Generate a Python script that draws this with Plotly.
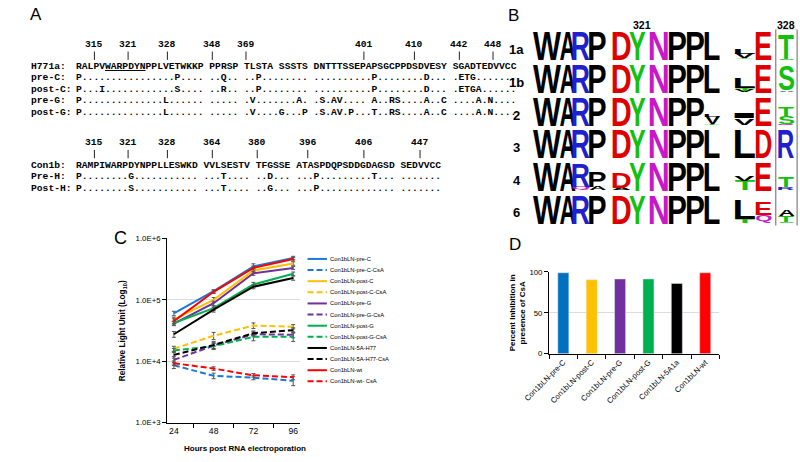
import json
import plotly.graph_objects as go

W, H = 800, 462

# ---------------- Panel A: sequence alignment ----------------
a_top_numbers = [315, 321, 328, 348, 369, 401, 410, 442, 448]
a_top_columns = [3, 9, 16, 24, 30, 51, 60, 68, 74]
a_top_names = ["H771a:", "pre-C:", "post-C:", "pre-G:", "post-G:"]
a_top_seqs = [
    "RALPVWARPDYNPPLVETWKKP PPRSP TLSTA SSSTS DNTTTSSEPAPSGCPPDSDVESY SGADTEDVVCC",
    "P................P.... ..Q.. ..P........ ..........P........D... .ETG.......",
    "P...I............S.... ..R.. ..P........ ..........P........D... .ETGA......",
    "P..............L...... ..... .V.......A. .S.AV.... A..RS....A..C ....A.N....",
    "P..............L...... ..... .V....G...P .S.AV.P...T..RS....A..C ....A.N....",
]
a_motif = (5, 12)  # WARPDYN, underlined in the H771a row

a_bot_numbers = [315, 321, 328, 364, 380, 396, 406, 447]
a_bot_columns = [3, 9, 16, 24, 32, 41, 51, 61]
a_bot_names = ["Con1b:", "Pre-H:", "Post-H:"]
a_bot_seqs = [
    "RAMPIWARPDYNPPLLESWKD VVLSESTV TFGSSE ATASPDQPSDDGDAGSD SEDVVCC",
    "P........G........... ...T.... ..D... ...P.........T... .......",
    "P........S........... ...T.... ..G... ...P............. .......",
]

# ---------------- Panel B: sequence logo ----------------
logo_rows = ["1a", "1b", "2", "3", "4", "6"]
logo_marks = ["321", "328"]
F1 = 1.0
logo_stacks = [
    [[("W", F1)], [("A", F1)], [("R", F1)], [("P", F1)], [("D", F1)], [("Y", F1)], [("N", F1)],
     [("P", F1)], [("P", F1)], [("L", F1)], [("Y", 0.06), ("V", 0.16), ("L", 0.16)], [("E", F1)],
     [("S", 0.05), ("T", 0.88)]],
    [[("W", F1)], [("A", F1)], [("R", F1)], [("P", F1)], [("D", F1)], [("Y", F1)], [("N", F1)],
     [("P", F1)], [("P", F1)], [("L", F1)], [("V", 0.07), ("T", 0.1), ("L", 0.36)], [("E", F1)],
     [("A", 0.06), ("S", 0.86)]],
    [[("W", F1)], [("A", F1)], [("R", F1)], [("P", F1)], [("D", F1)], [("Y", F1)], [("N", F1)],
     [("P", F1)], [("P", F1)], [("T", 0.03), ("V", 0.28), ("L", 0.1)], [("V", 0.24), ("I", 0.18)],
     [("E", F1)], [("Q", 0.04), ("S", 0.28), ("T", 0.32)]],
    [[("W", F1)], [("A", F1)], [("R", F1)], [("P", F1)], [("D", F1)], [("Y", F1)], [("N", F1)],
     [("P", F1)], [("P", F1)], [("L", F1)], [("L", F1)], [("D", F1)], [("R", F1)]],
    [[("W", F1)], [("A", F1)], [("Q", 0.12), ("R", 0.82)], [("A", 0.13), ("P", 0.52)],
     [("A", 0.1), ("D", 0.52)], [("Y", F1)], [("N", F1)], [("P", F1)], [("P", F1)], [("L", F1)],
     [("T", 0.34), ("V", 0.18)], [("E", F1)], [("R", 0.1), ("T", 0.35)]],
    [[("W", F1)], [("A", F1)], [("R", F1)], [("P", F1)], [("D", F1)], [("Y", F1)], [("N", F1)],
     [("P", F1)], [("P", F1)], [("L", F1)], [("T", 0.15), ("L", 0.68)], [("Q", 0.3), ("E", 0.45)],
     [("S", 0.05), ("T", 0.22), ("A", 0.22)]],
]
residue_colors = {}
for aa in "RKH":
    residue_colors[aa] = "#2020CC"
for aa in "DE":
    residue_colors[aa] = "#DD0000"
for aa in "STYGC":
    residue_colors[aa] = "#12C012"
for aa in "NQ":
    residue_colors[aa] = "#C818C8"

# ---------------- Panel C: replication kinetics ----------------
hours = ["24", "48", "72", "96"]
c_names = ["Con1bLN-pre-C", "Con1bLN-pre-C-CsA", "Con1bLN-post-C", "Con1bLN-post-C-CsA",
           "Con1bLN-pre-G", "Con1bLN-pre-G-CsA", "Con1bLN-post-G", "Con1bLN-post-G-CsA",
           "Con1bLN-5A-H77", "Con1bLN-5A-H77-CsA", "Con1bLN-wt", "Con1bLN-wt- CsA"]
pre_C = [6.0e4, 1.38e5, 3.5e5, 4.8e5]
pre_C_CsA = [8.6e3, 5.8e3, 5.4e3, 4.8e3]
post_C = [4.8e4, 1.0e5, 3.0e5, 3.9e5]
post_C_CsA = [1.6e4, 2.6e4, 3.8e4, 3.65e4]
pre_G = [4.1e4, 8.8e4, 2.7e5, 3.3e5]
pre_G_CsA = [1.05e4, 1.8e4, 2.75e4, 2.7e4]
post_G = [4.2e4, 7.3e4, 1.77e5, 2.65e5]
post_G_CsA = [1.5e4, 1.75e4, 2.5e4, 2.5e4]
h77 = [2.75e4, 6.9e4, 1.63e5, 2.26e5]
h77_CsA = [1.27e4, 1.84e4, 2.86e4, 3.2e4]
wt = [4.5e4, 1.35e5, 3.3e5, 4.6e5]
wt_CsA = [9.3e3, 7.6e3, 5.9e3, 5.5e3]
c_values = [pre_C, pre_C_CsA, post_C, post_C_CsA, pre_G, pre_G_CsA,
            post_G, post_G_CsA, h77, h77_CsA, wt, wt_CsA]
c_errors = [
    [5e3, 8e3, 3.5e4, 3e4], [1.0e3, 6e2, 4e2, 8e2],
    [4e3, 9e3, 2.5e4, 2.5e4], [1.5e3, 3.5e3, 4e3, 3e3],
    [3e3, 7e3, 2e4, 2e4], [1.5e3, 2e3, 2.5e3, 3e3],
    [3e3, 6e3, 1.5e4, 1.8e4], [1.2e3, 2e3, 3.5e3, 4e3],
    [3e3, 6e3, 1.2e4, 1.8e4], [1.5e3, 2.5e3, 2.5e3, 3e3],
    [4e3, 8e3, 2.5e4, 3e4], [8e2, 5e2, 4e2, 5e2],
]
c_colors = ["#1C78D8", "#1C78D8", "#FFC000", "#FFC000", "#7030A0", "#7030A0",
            "#00B050", "#00B050", "#000000", "#000000", "#FF0000", "#FF0000"]
c_dashes = ["solid", "6px,3px"] * 6
c_ticks = [1e3, 1e4, 1e5, 1e6]
c_ticktext = ["1.0E+3", "1.0E+4", "1.0E+5", "1.0E+6"]

# ---------------- Panel D: inhibition ----------------
d_categories = ["Con1bLN-pre-C", "Con1bLN-post-C", "Con1bLN-pre-G",
                "Con1bLN-post-G", "Con1bLN-5A1a", "Con1bLN-wt"]
d_values = [99, 90.5, 91.5, 91.5, 86, 99]
d_colors = ["#0070C0", "#FFC000", "#7030A0", "#00B050", "#000000", "#FF0000"]

# ================= layout / style constants =================
SANS = "Liberation Sans"
MONO = "Liberation Mono"
MONO_SIZE = 9.67
CW = 0.60009765625 * MONO_SIZE
SEQ_X0 = 50.4
LAB_X0 = 4.0
# logo column geometry (pixels) - style only
LOGO_COL_CENTERS = [539, 559.5, 574, 590.5, 616, 632.5, 654, 673.5, 691.5, 709.5, 743, 762.5, 786]
LOGO_COL_WIDTHS = [28, 15.5, 17, 16.5, 18, 16, 18, 17, 17, 15, 20, 15.5, 15.5]
LOGO_Y_TOP, LOGO_Y_BOT = 26.0, 225.8
MARK_COLS = [5, 12]

annotations = []
shapes = []


def ann(x, y, text, size, color="black", family=SANS, weight="normal",
        xanchor="center", yanchor="middle", angle=0, xref="paper", yref="paper"):
    if xref == "paper":
        x = x / W
    if yref == "paper":
        y = 1 - y / H
    annotations.append(dict(
        x=x, y=y, xref=xref, yref=yref, text=text, showarrow=False,
        font=dict(family=family, size=size, color=color, weight=weight),
        xanchor=xanchor, yanchor=yanchor, textangle=angle, borderpad=0))
    return len(annotations) - 1


def col_x(c):
    return SEQ_X0 + (c + 0.5) * CW


def alignment_block(numbers, columns, names, seqs, y_num, y_tick0, y_tick1, y_rows, row_gap, underline=None):
    for n, c in zip(numbers, columns):
        ann(col_x(c), y_num, str(n), MONO_SIZE, family=MONO, weight="bold")
        shapes.append(dict(type="line", xref="paper", yref="paper",
                           x0=col_x(c) / W, x1=col_x(c) / W, y0=1 - y_tick0 / H, y1=1 - y_tick1 / H,
                           line=dict(color="#222222", width=1)))
    for i, (nm, sq) in enumerate(zip(names, seqs)):
        y = y_rows + i * row_gap
        ann(LAB_X0, y, nm, MONO_SIZE, family=MONO, weight="bold", xanchor="left")
        txt = sq
        if i == 0 and underline is not None:
            a, b = underline
            txt = sq[:a] + '<span style="text-decoration:underline">' + sq[a:b] + "</span>" + sq[b:]
        ann(SEQ_X0, y, txt, MONO_SIZE, family=MONO, weight="bold", xanchor="left")


ann(3, 11, "A", 17, xanchor="left")
alignment_block(a_top_numbers, a_top_columns, a_top_names, a_top_seqs, 41.7, 48.5, 57, 63.3, 11.8, a_motif)
alignment_block(a_bot_numbers, a_bot_columns, a_bot_names, a_bot_seqs, 141.7, 148.8, 157.3, 164.6, 11.8)

# ---- Panel B ----
n_rows = len(logo_rows)
row_h_px = (LOGO_Y_BOT - LOGO_Y_TOP) / n_rows
LETTER_FULL = 0.85
LETTER_BASE = 0.075
LETTER_FS = 10
ann(497, 12, "B", 17, xanchor="left")
for lab, c in zip(logo_marks, MARK_COLS):
    ann(LOGO_COL_CENTERS[c] + (4 if c == 5 else 0), 21, lab, 10.5, weight="bold")
logo_specs = []
for r, (lab, row) in enumerate(zip(logo_rows, logo_stacks)):
    ann(507, LOGO_Y_TOP + (r + 0.5) * row_h_px + 4, lab, 13, weight="bold")
    base = n_rows - (r + 1) + LETTER_BASE
    for c, stack in enumerate(row):
        cum = base
        for letter, h in stack:
            hh = h * LETTER_FULL
            idx = ann(LOGO_COL_CENTERS[c], cum + hh / 2, letter, LETTER_FS,
                      color=residue_colors.get(letter, "#000000"), weight="bold",
                      xref="x3", yref="y3")
            logo_specs.append([idx, LOGO_COL_WIDTHS[c], round(hh * row_h_px, 2), LETTER_FS, letter])
            cum += hh
box_c = MARK_COLS[1]
shapes.append(dict(type="rect", xref="x3", yref="y3",
                   x0=LOGO_COL_CENTERS[box_c] - 11, x1=LOGO_COL_CENTERS[box_c] + 11,
                   y0=-0.22, y1=6.02, line=dict(color="#666666", width=1)))
shapes.append(dict(type="line", xref="x3", yref="y3",
                   x0=LOGO_COL_CENTERS[0] - LOGO_COL_WIDTHS[0] / 2 - 2,
                   x1=LOGO_COL_CENTERS[6] + LOGO_COL_WIDTHS[6] / 2 + 6,
                   y0=-0.05, y1=-0.05, line=dict(color="black", width=1.6)))

# ---- Panel C ----
ann(90, 239, "C", 18, xanchor="left")
ann(100, 333, "Relative Light Unit (Log<sub>10</sub>)", 8.2, weight="bold", angle=-90)
ann(226, 453, "Hours post RNA electroporation", 8, weight="bold")
LEG_X0, LEG_Y0, LEG_DY = 291, 260, 11.35
for i, (nm, colr, dsh) in enumerate(zip(c_names, c_colors, c_dashes)):
    y = LEG_Y0 + i * LEG_DY
    shapes.append(dict(type="line", xref="paper", yref="paper", x0=LEG_X0 / W, x1=(LEG_X0 + 20) / W,
                       y0=1 - y / H, y1=1 - y / H, line=dict(color=colr, width=2, dash=dsh)))
    ann(LEG_X0 + 22, y, nm, 5.8, xanchor="left")

# ---- Panel D ----
ann(498, 245, "D", 17, xanchor="left")
ann(508, 315, "Percent Inhibition in<br>presence of CsA", 8, weight="bold", angle=-90)

fig = go.Figure()
for nm, vals, err, colr, dsh in zip(c_names, c_values, c_errors, c_colors, c_dashes):
    fig.add_trace(go.Scatter(
        x=hours, y=vals, mode="lines", name=nm, showlegend=False,
        line=dict(color=colr, width=2, dash=dsh),
        error_y=dict(type="data", array=err, color="#555555", thickness=1, width=2),
        xaxis="x", yaxis="y"))
fig.add_trace(go.Bar(x=d_categories, y=d_values, marker_color=d_colors, width=0.39,
                     showlegend=False, xaxis="x2", yaxis="y2"))
fig.add_trace(go.Scatter(x=[None], y=[None], mode="markers", xaxis="x3", yaxis="y3",
                         showlegend=False, hoverinfo="skip"))

axis_font = dict(family=SANS, size=7.8, color="black")
fig.update_layout(
    width=W, height=H, margin=dict(l=0, r=0, t=0, b=0),
    paper_bgcolor="white", plot_bgcolor="white",
    xaxis=dict(domain=[146 / W, 283 / W], anchor="y", type="category", categoryarray=hours,
               tickson="boundaries", ticks="outside", ticklen=4, tickcolor="black",
               showline=True, linecolor="black", linewidth=1.3, showgrid=False,
               tickfont=dict(family=SANS, size=8.6, color="black")),
    yaxis=dict(domain=[1 - 427 / H, 1 - 239 / H], anchor="x", type="log", range=[3, 6],
               tickvals=c_ticks, ticktext=c_ticktext, ticks="outside", ticklen=4,
               tickcolor="black", showline=True, linecolor="black", linewidth=1.3,
               gridcolor="#DCDCDC", gridwidth=1, tickfont=axis_font),
    xaxis2=dict(domain=[540.7 / W, 716.7 / W], anchor="y2", type="category",
                categoryarray=d_categories, tickson="boundaries", ticks="outside", ticklen=4,
                tickcolor="black", showline=True, linecolor="black", linewidth=1.3,
                showgrid=False, tickangle=-45, tickfont=dict(family=SANS, size=7.7, color="black")),
    yaxis2=dict(domain=[1 - 356.7 / H, 1 - 273.3 / H], anchor="x2", range=[0, 100],
                tickvals=[0, 50, 100], ticks="outside", ticklen=4, tickcolor="black",
                showline=True, linecolor="black", linewidth=1.3, gridcolor="#DCDCDC",
                zeroline=False, tickfont=axis_font),
    xaxis3=dict(domain=[0, 1], anchor="y3", range=[0, W], visible=False),
    yaxis3=dict(domain=[1 - LOGO_Y_BOT / H, 1 - LOGO_Y_TOP / H], anchor="x3", range=[0, n_rows],
                visible=False),
    annotations=annotations,
    shapes=shapes,
)

js = """
(function(){
document.body.style.margin='0';
var gd=document.getElementById('{plot_id}');
var specs=SPECS;
var REF=200;
var cv=document.createElement('canvas').getContext('2d');
cv.font='bold '+REF+'px "Liberation Sans"';
specs.forEach(function(s){
  var t=gd.querySelector('g.annotation[data-index="'+s[0]+'"] text.annotation-text');
  if(!t) return;
  var bb=t.getBBox();
  if(!bb.width) return;
  var k=s[3]/REF;
  var m=cv.measureText(s[4]);
  var asc=(m.fontBoundingBoxAscent||0.905*REF)*k;
  var desc=(m.fontBoundingBoxDescent||0.212*REF)*k;
  var base=bb.y+bb.height/2+(asc-desc)/2;
  var ix0=bb.x-m.actualBoundingBoxLeft*k, ix1=bb.x+m.actualBoundingBoxRight*k;
  var iy0=base-m.actualBoundingBoxAscent*k, iy1=base+m.actualBoundingBoxDescent*k;
  var icx=(ix0+ix1)/2, icy=(iy0+iy1)/2;
  var tcx=bb.x+bb.width/2, tcy=bb.y+bb.height/2;
  var sx=s[1]/(ix1-ix0), sy=s[2]/(iy1-iy0);
  t.setAttribute('transform','translate('+tcx+','+tcy+') scale('+sx+','+sy+') translate('+(-icx)+','+(-icy)+')');
});
})();
""".replace("SPECS", json.dumps(logo_specs))

fig.write_html("out.html", post_script=js, config={"displayModeBar": False})
